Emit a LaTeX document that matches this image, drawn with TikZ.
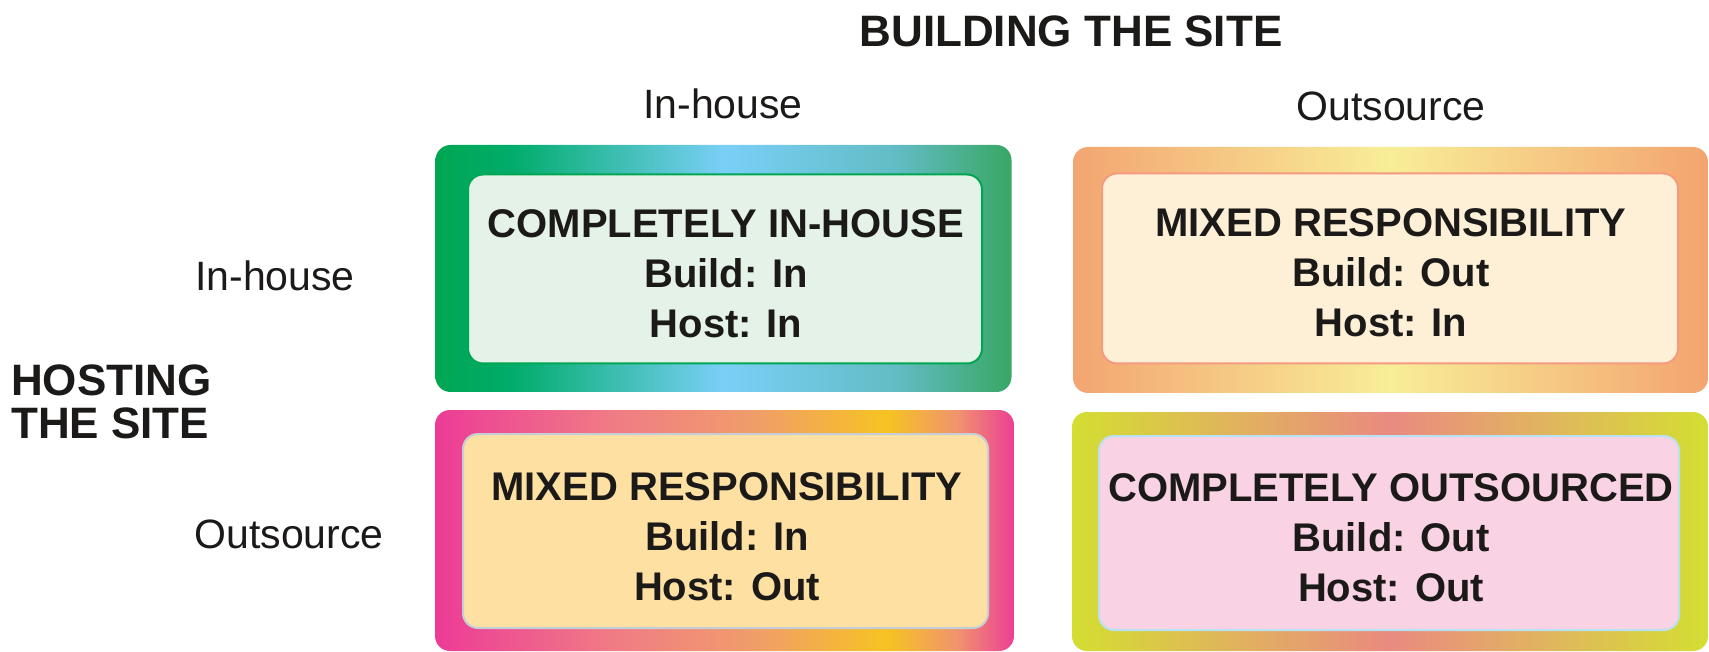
\documentclass[tikz,border=0pt]{standalone}
\usepackage{fontspec}
\setmainfont{Liberation Sans}
\definecolor{txt}{HTML}{1C1A18}
% box 1 (green / blue)
\definecolor{gA0}{HTML}{00A651}
\definecolor{gA1}{HTML}{00AC6A}
\definecolor{gA2}{HTML}{7ACFF7}
\definecolor{gA3}{HTML}{62BCC4}
\definecolor{gA4}{HTML}{38A764}
% box 2 (orange / yellow)
\definecolor{gB0}{HTML}{F3A571}
\definecolor{gB1}{HTML}{F8EE98}
\definecolor{gB2}{HTML}{F3A46F}
% box 3 (pink / yellow)
\definecolor{gC0}{HTML}{EC3B96}
\definecolor{gC1}{HTML}{F07A86}
\definecolor{gC2}{HTML}{F09D6A}
\definecolor{gC3}{HTML}{F6C322}
\definecolor{gC4}{HTML}{F0956C}
\definecolor{gC5}{HTML}{EC3F94}
% box 4 (lime / salmon)
\definecolor{gD0}{HTML}{D4DE32}
\definecolor{gD1}{HTML}{E0B45D}
\definecolor{gD2}{HTML}{EA8A80}
\definecolor{gD3}{HTML}{E0B65E}
\definecolor{gD4}{HTML}{D4DE33}
% inner fills and borders
\definecolor{inA}{HTML}{E4F2E7}\definecolor{bdA}{HTML}{00A651}
\definecolor{inB}{HTML}{FEF0D6}\definecolor{bdB}{HTML}{F49A80}
\definecolor{inC}{HTML}{FEE1A2}\definecolor{bdC}{HTML}{C5CDD6}
\definecolor{inD}{HTML}{F9D3E4}\definecolor{bdD}{HTML}{B8E2F2}
\pgfdeclarehorizontalshading{shA}{100bp}{color(0bp)=(gA0); color(25bp)=(gA0); color(31.5bp)=(gA1); color(50bp)=(gA2); color(65bp)=(gA3); color(75bp)=(gA4); color(100bp)=(gA4)}
\pgfdeclarehorizontalshading{shB}{100bp}{color(0bp)=(gB0); color(25bp)=(gB0); color(50bp)=(gB1); color(75bp)=(gB2); color(100bp)=(gB2)}
\pgfdeclarehorizontalshading{shC}{100bp}{color(0bp)=(gC0); color(25bp)=(gC0); color(40bp)=(gC1); color(52.5bp)=(gC2); color(64bp)=(gC3); color(70bp)=(gC4); color(75bp)=(gC5); color(100bp)=(gC5)}
\pgfdeclarehorizontalshading{shD}{100bp}{color(0bp)=(gD0); color(25bp)=(gD0); color(37.5bp)=(gD1); color(50bp)=(gD2); color(62.5bp)=(gD3); color(75bp)=(gD4); color(100bp)=(gD4)}
\begin{document}
\begin{tikzpicture}[x=1pt,y=-1pt,
  outerbox/.style={rectangle, rounded corners=15pt, inner sep=0pt, draw=none},
  innerbox/.style={rectangle, rounded corners=15pt, inner sep=0pt, line width=2pt},
  boxtext/.style={inner sep=0pt, align=center, text=txt, font=\fontsize{40}{50}\selectfont\bfseries},
  heading/.style={inner sep=0pt, text=txt, font=\fontsize{44}{43}\selectfont\bfseries},
  axislabel/.style={inner sep=0pt, text=txt, font=\fontsize{41}{48}\selectfont}]
\useasboundingbox (0,0) rectangle (1709,652);
% outer gradient frames
\node[outerbox, shading=shA, minimum width=576pt, minimum height=247pt] (oA) at (723.5,268.5) {};
\node[outerbox, shading=shB, minimum width=635pt, minimum height=246pt] (oB) at (1390.5,270) {};
\node[outerbox, shading=shC, minimum width=579pt, minimum height=241pt] (oC) at (724.5,530.5) {};
\node[outerbox, shading=shD, minimum width=636pt, minimum height=239pt] (oD) at (1390,531.5) {};
% inner panels
\node[innerbox, fill=inA, draw=bdA, minimum width=514pt, minimum height=189pt] (iA) at (725,269) {};
\node[innerbox, fill=inB, draw=bdB, minimum width=576pt, minimum height=190pt] (iB) at (1390,268.5) {};
\node[innerbox, fill=inC, draw=bdC, minimum width=525pt, minimum height=194pt] (iC) at (725.5,531) {};
\node[innerbox, fill=inD, draw=bdD, minimum width=580pt, minimum height=194pt] (iD) at (1389,533) {};
% panel texts
\node[boxtext] (tA) at (726,273.5) {COMPLETELY IN-HOUSE\\Build: In\\Host: In};
\node[boxtext] (tB) at (1391,273) {MIXED RESPONSIBILITY\\Build: Out\\Host: In};
\node[boxtext] (tC) at (727,537) {MIXED RESPONSIBILITY\\Build: In\\Host: Out};
\node[boxtext] (tD) at (1391,537.5) {COMPLETELY OUTSOURCED\\Build: Out\\Host: Out};
% headings
\node[heading] (build) at (1071,31) {BUILDING THE SITE};
\node[heading, anchor=west, align=left] (host) at (11,401.5) {HOSTING\\THE SITE};
% axis labels
\node[axislabel] (colIn) at (723,103.5) {In-house};
\node[axislabel] (colOut) at (1391,106) {Outsource};
\node[axislabel] (rowIn) at (275,276) {In-house};
\node[axislabel] (rowOut) at (289,534) {Outsource};
\end{tikzpicture}
\end{document}
